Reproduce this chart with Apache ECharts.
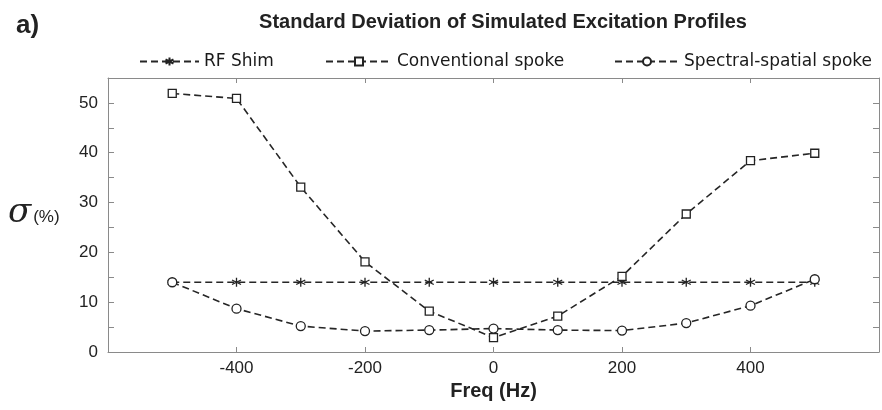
<!DOCTYPE html>
<html>
<head>
<meta charset="utf-8">
<script src="https://cdn.jsdelivr.net/npm/echarts@6/dist/echarts.min.js"></script>
<style>
  html, body { margin: 0; padding: 0; background: #fff; }
  #chart { width: 882px; height: 410px; }
</style>
</head>
<body>
<div id="chart"></div>
<script>
// frequencies (Hz)
var freqs = [-500, -400, -300, -200, -100, 0, 100, 200, 300, 400, 500];
// standard deviation (%) per method
var rfShim = [14, 14, 14, 14, 14, 14, 14, 14, 14, 14, 14];
var convSpoke = [51.9, 50.9, 33.1, 18.1, 8.2, 2.9, 7.2, 15.2, 27.7, 38.4, 39.9];
var ssSpoke = [14.0, 8.7, 5.2, 4.2, 4.4, 4.7, 4.4, 4.3, 5.8, 9.3, 14.6];
var seriesNames = ['RF Shim', 'Conventional spoke', 'Spectral-spatial spoke'];
var xTicks = [-400, -200, 0, 200, 400];

function pairs(ys) {
    return freqs.map(function (f, i) { return [f, ys[i]]; });
}

var chart = echarts.init(document.getElementById('chart'));
var font = "'Liberation Sans', Arial, sans-serif";
var ink = '#222';
var frame = '#8a8a8a';
var asterisk = 'path://M0,-5L0,5M-4.3,-2.5L4.3,2.5M-4.3,2.5L4.3,-2.5';

function lineSeries(name, ys, symbol, size) {
    return {
        name: name,
        type: 'line',
        xAxisIndex: 0, yAxisIndex: 0,
        data: pairs(ys),
        symbol: symbol,
        symbolSize: size,
        showSymbol: true,
        lineStyle: { color: '#262626', width: 1.6, type: [7, 4] },
        itemStyle: { color: '#fff', borderColor: ink, borderWidth: 1.3 },
        emphasis: { disabled: true },
        animation: false,
        z: 3
    };
}

function legendAt(left, width, name) {
    return {
        left: left, top: 48,
        data: [name],
        itemWidth: width, itemHeight: 10,
        textStyle: { fontFamily: "'DejaVu Sans', sans-serif", fontSize: 17, color: '#1a1a1a' }
    };
}

function tickStyle(len) {
    return { inside: true, length: len, lineStyle: { color: frame } };
}
var lineAxis = { show: true, onZero: false, lineStyle: { color: frame, width: 1 } };

var option = {
    backgroundColor: '#fff',
    title: {
        text: 'Standard Deviation of Simulated Excitation Profiles',
        left: 498, top: 7, textAlign: 'center',
        textStyle: { fontFamily: font, fontSize: 20, fontWeight: 'bold', color: ink }
    },
    legend: [
        legendAt(134, 59, seriesNames[0]),
        legendAt(320, 66, seriesNames[1]),
        legendAt(609, 64, seriesNames[2])
    ],
    grid: { left: 108, right: 1, top: 78, bottom: 58 },
    xAxis: [{
        type: 'value', min: -600, max: 600, interval: 200,
        position: 'bottom',
        axisLine: lineAxis,
        axisTick: tickStyle(5),
        splitLine: { show: false },
        axisLabel: {
            fontFamily: font, fontSize: 17, color: ink, margin: 8,
            formatter: function (v) { return xTicks.indexOf(v) >= 0 ? String(v) : ''; }
        },
        name: 'Freq (Hz)', nameLocation: 'middle', nameGap: 29,
        nameTextStyle: { fontFamily: font, fontSize: 20, fontWeight: 'bold', color: ink }
    }, {
        type: 'value', min: -600, max: 600, interval: 200,
        position: 'top',
        axisLine: lineAxis,
        axisTick: tickStyle(5),
        axisLabel: { show: false },
        splitLine: { show: false }
    }],
    yAxis: [{
        type: 'value', min: 0, max: 55, interval: 5,
        position: 'left',
        axisLine: lineAxis,
        axisTick: tickStyle(6),
        splitLine: { show: false },
        axisLabel: {
            fontFamily: font, fontSize: 17, color: ink, margin: 10,
            formatter: function (v) { return v % 10 === 0 ? String(v) : ''; }
        }
    }, {
        type: 'value', min: 0, max: 55, interval: 5,
        position: 'right',
        axisLine: lineAxis,
        axisTick: tickStyle(6),
        axisLabel: { show: false },
        splitLine: { show: false }
    }],
    graphic: [{
        type: 'text', left: 16, top: 13,
        style: { text: 'a)', font: 'bold 26px ' + font, fill: ink }
    }, {
        type: 'text', left: 8, top: 196,
        style: {
            text: '{s|σ}{p|(%)}',
            rich: {
                s: { fontFamily: "'DejaVu Serif', serif", fontSize: 34, fontStyle: 'italic', fill: ink },
                p: { fontFamily: font, fontSize: 17, fill: ink, padding: [8, 0, 0, 2] }
            }
        }
    }],
    series: [
        lineSeries(seriesNames[0], rfShim, asterisk, 9),
        lineSeries(seriesNames[1], convSpoke, 'rect', 8),
        lineSeries(seriesNames[2], ssSpoke, 'circle', 9)
    ]
};
chart.setOption(option);
</script>
</body>
</html>
